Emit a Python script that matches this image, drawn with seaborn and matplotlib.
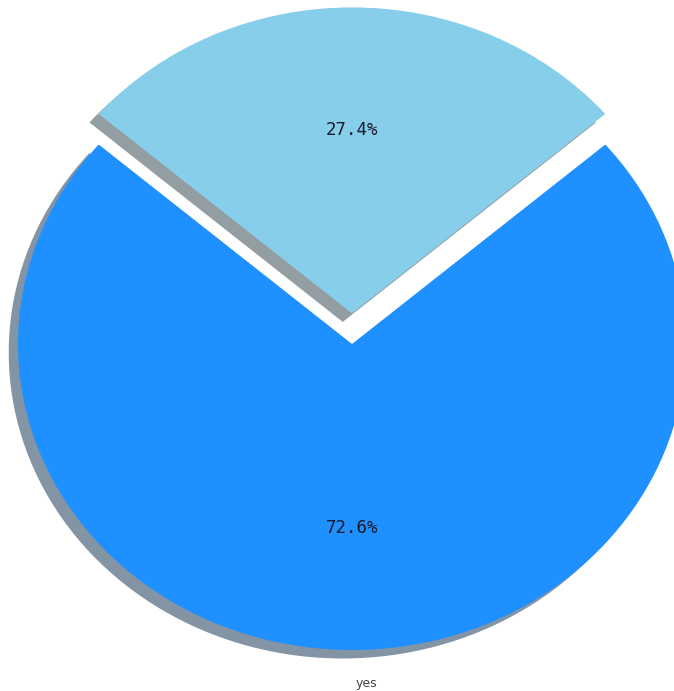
import matplotlib
matplotlib.use("Agg")
import matplotlib.pyplot as plt
import seaborn as sns

# Share of each slice, in percent
slice_shares = [27.4, 72.6]
slice_colors = ["skyblue", "dodgerblue"]
explode_offsets = [0.1, 0.0]
axis_caption = "yes"

sns.set_theme(style="white")
palette = sns.color_palette(slice_colors)

fig = plt.figure(figsize=(6.74, 6.91), dpi=100)
ax = fig.add_axes([0.0, 19 / 691, 1.0, 672 / 691])

wedges, texts, autotexts = ax.pie(
    slice_shares,
    colors=palette,
    explode=explode_offsets,
    autopct="%1.1f%%",
    pctdistance=0.6,
    shadow=True,
    startangle=90 - slice_shares[0] * 3.6 / 2,
    wedgeprops={"linewidth": 0, "edgecolor": "none"},
    textprops={"family": "DejaVu Sans Mono", "fontsize": 12.5, "color": "#1a1a2a"},
)

# stretched (non-square) pie, cropped on the right edge
ax.set_aspect("auto")
ax.set_xlim(-352 / 334, (674 - 352) / 334)
ax.set_ylim(-(672 - 344) / 306, 344 / 306)
ax.set_xticks([])
ax.set_yticks([])
ax.set_frame_on(False)

fig.text(366 / 674, 1 - 684 / 691, axis_caption, ha="center", va="center",
         fontsize=9, color="#444444", family="DejaVu Sans")

fig.savefig("out.png", dpi=100)
